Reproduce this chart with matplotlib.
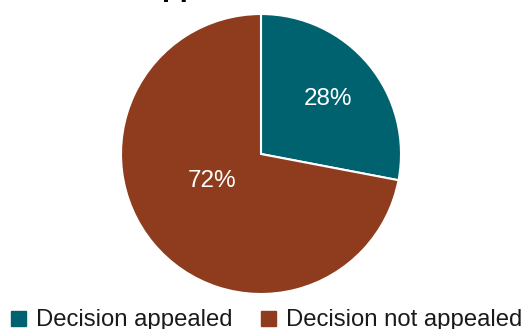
import matplotlib
matplotlib.use("Agg")
import matplotlib.pyplot as plt
from matplotlib.patches import Rectangle
import numpy as np

plt.rcParams['font.family'] = ['Liberation Sans', 'DejaVu Sans']

# appeal outcomes, percent of decisions
categories = ["Decision appealed", "Decision not appealed"]
shares = [28, 72]
colors = ["#00626e", "#8e3c1d"]
title = "Appeals"

W, H = 522, 329
fig = plt.figure(figsize=(W / 100, H / 100), dpi=100)

# pie axes: 280 px square, centred at (261, 154) from top-left
ax = fig.add_axes([121 / W, 35 / H, 280 / W, 280 / H])
wedges, texts, autotexts = ax.pie(
    shares, colors=colors, startangle=90, counterclock=False,
    autopct=lambda p: f"{p:.0f}%", pctdistance=0.62,
    wedgeprops=dict(edgecolor="white", linewidth=1.5),
    textprops=dict(color="white", fontsize=17.5))
# the large slice's label sits nearer the middle
autotexts[1].set_position((-0.35, -0.19))
ax.set_xlim(-1, 1)
ax.set_ylim(-1, 1)
ax.set_aspect("equal")
ax.axis("off")

# title runs off the top edge
fig.text(141 / W, 1 + 4 / H, title, fontsize=21, fontweight="bold",
         ha="left", va="baseline")

# legend along the bottom
sq_x = [11, 261]
txt_x = [36, 286]
for c, label, sx, tx in zip(colors, categories, sq_x, txt_x):
    fig.patches.append(Rectangle((sx / W, 3 / H), 15 / W, 15 / H,
                                 transform=fig.transFigure, color=c))
    fig.text(tx / W, 3 / H, label, fontsize=17.2, color="#1a1a1a",
             ha="left", va="baseline")

fig.savefig("out.png", dpi=100)
